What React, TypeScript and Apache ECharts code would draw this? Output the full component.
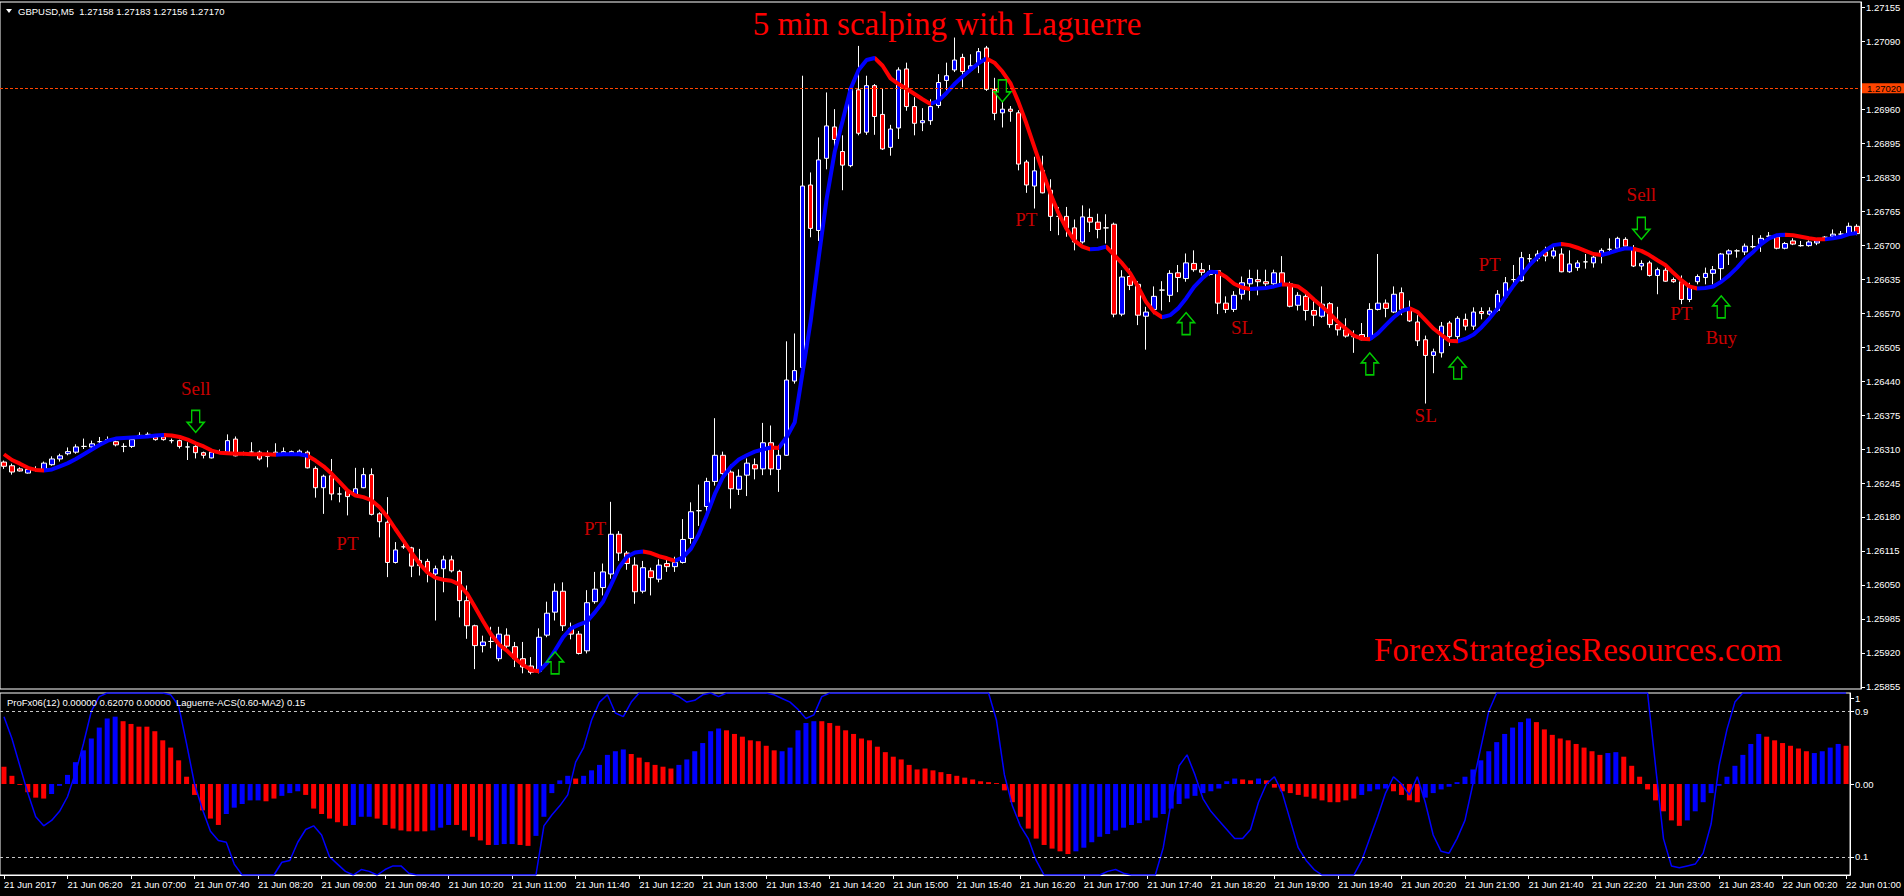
import React, { useEffect, useRef } from 'react';
import * as echarts from 'echarts';

// ---------- DATA ----------
const openP = [
1.26285,1.26278,1.26272,1.26264,1.26271,1.26270,1.26280,1.26291,1.26301,1.26304,
1.26315,1.26314,1.26324,1.26328,1.26324,1.26315,1.26315,1.26336,1.26338,1.26333,
1.26333,1.26326,1.26326,1.26314,1.26315,1.26303,1.26293,1.26305,1.26304,1.26329,
1.26301,1.26304,1.26304,1.26296,1.26304,1.26301,1.26301,1.26301,1.26304,1.26273,
1.26236,1.26259,1.26224,1.26229,1.26221,1.26236,1.26261,1.26186,1.26170,1.26093,
1.26123,1.26121,1.26097,1.26095,1.26071,1.26081,1.26098,1.26076,1.26020,1.25972,
1.25934,1.25942,1.25909,1.25954,1.25932,1.25909,1.25895,1.25885,1.25954,1.25998,
1.26038,1.25967,1.25956,1.25924,1.26018,1.26045,1.26071,1.26147,1.26111,1.26088,
1.26038,1.26077,1.26061,1.26091,1.26085,1.26093,1.26139,1.26192,1.26200,1.26248,
1.26298,1.26266,1.26233,1.26260,1.26280,1.26272,1.26322,1.26271,1.26298,1.26440,
1.26466,1.26815,1.26728,1.26866,1.26926,1.26879,1.26852,1.26997,1.26916,1.27005,
1.26950,1.26887,1.26924,1.27037,1.26965,1.26934,1.26938,1.26967,1.27015,1.27035,
1.27059,1.27035,1.27048,1.27077,1.26998,1.26953,1.26960,1.26953,1.26859,1.26813,
1.26843,1.26805,1.26755,1.26755,1.26733,1.26706,1.26753,1.26744,1.26733,1.26740,
1.26568,1.26640,1.26625,1.26564,1.26577,1.26614,1.26604,1.26647,1.26636,1.26665,
1.26653,1.26644,1.26651,1.26589,1.26577,1.26606,1.26626,1.26634,1.26630,1.26626,
1.26647,1.26626,1.26585,1.26602,1.26575,1.26564,1.26588,1.26548,1.26538,1.26525,
1.26529,1.26521,1.26577,1.26589,1.26572,1.26609,1.26577,1.26553,1.26519,1.26489,
1.26494,1.26551,1.26525,1.26558,1.26545,1.26573,1.26568,1.26575,1.26601,1.26634,
1.26632,1.26674,1.26674,1.26687,1.26679,1.26683,1.26649,1.26657,1.26668,1.26666,
1.26681,1.26692,1.26694,1.26711,1.26694,1.26660,1.26666,1.26642,1.26652,1.26634,
1.26630,1.26596,1.26630,1.26638,1.26646,1.26655,1.26683,1.26689,1.26687,1.26697,
1.26703,1.26717,1.26716,1.26694,1.26708,1.26699,1.26699,1.26704,1.26715,1.26717,
1.26721,1.26722,1.26736];

const closeP = [
1.26277,1.26266,1.26268,1.26271,1.26271,1.26283,1.26291,1.26297,1.26305,1.26314,
1.26315,1.26320,1.26324,1.26328,1.26318,1.26315,1.26328,1.26336,1.26338,1.26328,
1.26328,1.26326,1.26315,1.26314,1.26303,1.26298,1.26304,1.26305,1.26326,1.26297,
1.26301,1.26304,1.26291,1.26296,1.26301,1.26305,1.26305,1.26306,1.26274,1.26236,
1.26258,1.26224,1.26224,1.26219,1.26234,1.26261,1.26185,1.26171,1.26093,1.26117,
1.26123,1.26086,1.26087,1.26074,1.26081,1.26098,1.26077,1.26020,1.25972,1.25934,
1.25941,1.25942,1.25956,1.25933,1.25909,1.25893,1.25883,1.25950,1.25996,1.26038,
1.25972,1.25956,1.25919,1.26016,1.26042,1.26075,1.26147,1.26111,1.26091,1.26037,
1.26083,1.26064,1.26088,1.26085,1.26093,1.26137,1.26190,1.26192,1.26248,1.26298,
1.26263,1.26234,1.26258,1.26283,1.26272,1.26322,1.26272,1.26298,1.26442,1.26460,
1.26813,1.26732,1.26863,1.26928,1.26902,1.26853,1.26999,1.26914,1.27005,1.26946,
1.26884,1.26922,1.27035,1.26965,1.26933,1.26938,1.26965,1.27011,1.27024,1.27054,
1.27032,1.27043,1.27070,1.26998,1.26952,1.26960,1.26956,1.26855,1.26815,1.26842,
1.26800,1.26755,1.26755,1.26733,1.26706,1.26754,1.26744,1.26730,1.26733,1.26568,
1.26639,1.26623,1.26566,1.26572,1.26602,1.26614,1.26646,1.26638,1.26666,1.26653,
1.26648,1.26649,1.26589,1.26577,1.26604,1.26628,1.26636,1.26630,1.26626,1.26647,
1.26626,1.26583,1.26604,1.26575,1.26566,1.26587,1.26548,1.26538,1.26526,1.26525,
1.26519,1.26577,1.26589,1.26579,1.26606,1.26577,1.26555,1.26517,1.26489,1.26496,
1.26545,1.26525,1.26560,1.26545,1.26572,1.26569,1.26574,1.26606,1.26628,1.26634,
1.26676,1.26674,1.26683,1.26679,1.26689,1.26649,1.26664,1.26666,1.26668,1.26677,
1.26690,1.26692,1.26713,1.26698,1.26660,1.26665,1.26642,1.26653,1.26631,1.26630,
1.26596,1.26621,1.26640,1.26646,1.26653,1.26683,1.26689,1.26689,1.26698,1.26697,
1.26713,1.26717,1.26694,1.26703,1.26702,1.26699,1.26706,1.26708,1.26715,1.26721,
1.26721,1.26736,1.26722];

const highP = [
1.26288,1.26282,1.26275,1.26273,1.26277,1.26286,1.26296,1.26301,1.26313,1.26319,
1.26330,1.26326,1.26333,1.26334,1.26326,1.26321,1.26332,1.26342,1.26342,1.26336,
1.26334,1.26330,1.26328,1.26323,1.26321,1.26305,1.26307,1.26309,1.26338,1.26334,
1.26305,1.26323,1.26307,1.26307,1.26321,1.26313,1.26307,1.26309,1.26307,1.26277,
1.26261,1.26291,1.26237,1.26235,1.26274,1.26274,1.26273,1.26189,1.26218,1.26132,
1.26138,1.26123,1.26119,1.26100,1.26087,1.26106,1.26106,1.26079,1.26049,1.25974,
1.25953,1.25970,1.25970,1.25967,1.25941,1.25941,1.25912,1.25967,1.26018,1.26053,
1.26055,1.25978,1.25962,1.26040,1.26075,1.26091,1.26209,1.26153,1.26115,1.26103,
1.26096,1.26083,1.26099,1.26099,1.26104,1.26176,1.26208,1.26242,1.26255,1.26369,
1.26305,1.26280,1.26271,1.26292,1.26292,1.26360,1.26355,1.26317,1.26516,1.26531,
1.27024,1.26839,1.26906,1.26992,1.26960,1.26910,1.27000,1.27081,1.27024,1.27008,
1.27000,1.26930,1.27040,1.27049,1.26983,1.26962,1.26979,1.27027,1.27049,1.27097,
1.27066,1.27065,1.27077,1.27081,1.27020,1.26974,1.26966,1.26958,1.26863,1.26869,
1.26871,1.26826,1.26773,1.26773,1.26749,1.26776,1.26770,1.26760,1.26759,1.26743,
1.26652,1.26655,1.26631,1.26582,1.26621,1.26631,1.26652,1.26662,1.26684,1.26690,
1.26666,1.26662,1.26652,1.26602,1.26612,1.26640,1.26653,1.26653,1.26653,1.26653,
1.26679,1.26630,1.26610,1.26607,1.26594,1.26621,1.26591,1.26582,1.26560,1.26537,
1.26551,1.26589,1.26683,1.26596,1.26621,1.26619,1.26594,1.26566,1.26527,1.26502,
1.26553,1.26555,1.26564,1.26569,1.26581,1.26581,1.26581,1.26614,1.26639,1.26662,
1.26687,1.26683,1.26690,1.26697,1.26697,1.26694,1.26690,1.26671,1.26683,1.26683,
1.26694,1.26713,1.26716,1.26715,1.26700,1.26671,1.26670,1.26657,1.26657,1.26638,
1.26642,1.26628,1.26644,1.26657,1.26660,1.26685,1.26692,1.26692,1.26703,1.26719,
1.26719,1.26725,1.26719,1.26706,1.26713,1.26708,1.26709,1.26713,1.26717,1.26730,
1.26727,1.26743,1.26740];

const lowP = [
1.26272,1.26261,1.26267,1.26263,1.26267,1.26269,1.26278,1.26286,1.26298,1.26301,
1.26310,1.26311,1.26320,1.26323,1.26315,1.26304,1.26312,1.26330,1.26332,1.26326,
1.26326,1.26321,1.26311,1.26289,1.26292,1.26292,1.26292,1.26301,1.26303,1.26296,
1.26298,1.26298,1.26288,1.26275,1.26298,1.26300,1.26300,1.26300,1.26273,1.26217,
1.26186,1.26212,1.26208,1.26183,1.26219,1.26235,1.26183,1.26141,1.26065,1.26091,
1.26119,1.26065,1.26068,1.26055,1.25982,1.26036,1.26074,1.25988,1.25947,1.25889,
1.25921,1.25929,1.25904,1.25925,1.25893,1.25881,1.25879,1.25881,1.25950,1.25982,
1.25962,1.25946,1.25917,1.25919,1.26014,1.26030,1.26062,1.26096,1.26079,1.26014,
1.26034,1.26030,1.26055,1.26075,1.26075,1.26091,1.26129,1.26163,1.26180,1.26240,
1.26256,1.26196,1.26222,1.26220,1.26252,1.26260,1.26260,1.26228,1.26297,1.26435,
1.26462,1.26715,1.26708,1.26845,1.26886,1.26805,1.26849,1.26910,1.26911,1.26911,
1.26882,1.26871,1.26903,1.26957,1.26910,1.26918,1.26930,1.26962,1.26995,1.27031,
1.27002,1.27031,1.27029,1.26995,1.26939,1.26925,1.26936,1.26843,1.26800,1.26770,
1.26799,1.26727,1.26719,1.26716,1.26690,1.26703,1.26725,1.26713,1.26703,1.26562,
1.26564,1.26614,1.26547,1.26500,1.26568,1.26575,1.26591,1.26610,1.26630,1.26649,
1.26642,1.26642,1.26568,1.26570,1.26572,1.26596,1.26594,1.26604,1.26621,1.26623,
1.26623,1.26581,1.26575,1.26556,1.26545,1.26561,1.26542,1.26527,1.26523,1.26494,
1.26518,1.26518,1.26575,1.26562,1.26570,1.26566,1.26553,1.26507,1.26397,1.26455,
1.26485,1.26507,1.26519,1.26537,1.26538,1.26558,1.26561,1.26572,1.26598,1.26626,
1.26630,1.26660,1.26669,1.26669,1.26674,1.26648,1.26647,1.26651,1.26655,1.26657,
1.26665,1.26687,1.26690,1.26694,1.26658,1.26652,1.26640,1.26606,1.26630,1.26628,
1.26587,1.26591,1.26625,1.26625,1.26625,1.26631,1.26662,1.26676,1.26681,1.26694,
1.26687,1.26715,1.26692,1.26692,1.26700,1.26697,1.26697,1.26700,1.26709,1.26716,
1.26717,1.26721,1.26719];

// Laguerre moving line on the price chart
const laguerreMA = [
1.26300,1.26289,1.26282,1.26274,1.26270,1.26269,1.26271,1.26277,1.26283,1.26291,
1.26300,1.26309,1.26318,1.26326,1.26330,1.26331,1.26332,1.26333,1.26334,1.26336,
1.26337,1.26336,1.26333,1.26328,1.26321,1.26315,1.26307,1.26303,1.26302,1.26301,
1.26301,1.26300,1.26300,1.26300,1.26299,1.26300,1.26300,1.26300,1.26297,1.26288,
1.26277,1.26263,1.26247,1.26231,1.26221,1.26218,1.26212,1.26199,1.26180,1.26157,
1.26135,1.26112,1.26091,1.26074,1.26064,1.26060,1.26058,1.26051,1.26033,1.26007,
1.25980,1.25955,1.25936,1.25924,1.25909,1.25897,1.25887,1.25885,1.25901,1.25925,
1.25950,1.25967,1.25974,1.25980,1.25998,1.26018,1.26050,1.26083,1.26104,1.26112,
1.26114,1.26111,1.26105,1.26101,1.26096,1.26103,1.26119,1.26147,1.26184,1.26224,
1.26256,1.26276,1.26290,1.26298,1.26305,1.26309,1.26313,1.26312,1.26333,1.26361,
1.26458,1.26555,1.26676,1.26789,1.26878,1.26938,1.26999,1.27035,1.27054,1.27058,
1.27043,1.27019,1.27008,1.26999,1.26989,1.26979,1.26970,1.26976,1.26991,1.27008,
1.27022,1.27035,1.27048,1.27057,1.27049,1.27032,1.27010,1.26974,1.26933,1.26888,
1.26843,1.26799,1.26762,1.26732,1.26709,1.26697,1.26692,1.26693,1.26697,1.26681,
1.26665,1.26646,1.26620,1.26591,1.26572,1.26562,1.26566,1.26579,1.26598,1.26620,
1.26636,1.26649,1.26648,1.26639,1.26626,1.26619,1.26616,1.26617,1.26618,1.26621,
1.26625,1.26624,1.26621,1.26610,1.26596,1.26583,1.26569,1.26553,1.26540,1.26527,
1.26521,1.26520,1.26531,1.26547,1.26562,1.26574,1.26579,1.26572,1.26556,1.26540,
1.26528,1.26517,1.26516,1.26521,1.26529,1.26543,1.26560,1.26579,1.26601,1.26623,
1.26642,1.26662,1.26677,1.26690,1.26700,1.26702,1.26700,1.26695,1.26689,1.26683,
1.26681,1.26685,1.26690,1.26694,1.26693,1.26689,1.26681,1.26671,1.26662,1.26647,
1.26633,1.26621,1.26617,1.26618,1.26621,1.26630,1.26642,1.26657,1.26674,1.26687,
1.26702,1.26713,1.26719,1.26720,1.26719,1.26716,1.26713,1.26711,1.26711,1.26713,
1.26716,1.26721,1.26723];

// bar positions where the Laguerre line changes colour (starts red)
const maTurns = [5, 20, 34.2, 37.5, 66.5, 80, 84.4, 95.9, 97.1, 109, 116.1, 123, 136.3, 138, 145.3,
  151.7, 156.3, 160, 171, 175.9, 182.3, 194.8, 200, 204, 212.1, 223, 228.2];

// ProFx06 histogram
const histValues = [
0.19,0.09,-0.01,-0.09,-0.15,-0.16,-0.11,-0.02,0.1,0.24,
0.37,0.5,0.62,0.72,0.74,0.69,0.66,0.63,0.63,0.58,
0.48,0.4,0.26,0.08,-0.12,-0.29,-0.38,-0.45,-0.33,-0.26,
-0.22,-0.18,-0.18,-0.19,-0.16,-0.13,-0.1,-0.08,-0.12,-0.27,
-0.33,-0.38,-0.42,-0.46,-0.45,-0.36,-0.36,-0.38,-0.45,-0.49,
-0.51,-0.52,-0.52,-0.52,-0.51,-0.48,-0.45,-0.45,-0.51,-0.58,
-0.62,-0.67,-0.67,-0.66,-0.66,-0.67,-0.68,-0.57,-0.36,-0.1,
0.04,0.09,0.06,0.09,0.15,0.21,0.32,0.36,0.38,0.33,
0.29,0.24,0.21,0.19,0.17,0.21,0.27,0.36,0.45,0.58,
0.61,0.59,0.55,0.52,0.48,0.47,0.42,0.37,0.36,0.4,
0.59,0.67,0.69,0.69,0.67,0.64,0.59,0.55,0.5,0.48,
0.41,0.35,0.3,0.27,0.21,0.16,
0.17,0.15,0.13,0.11,0.09,0.07,0.05,0.03,0.02,0.01,
-0.07,-0.2,-0.36,-0.49,-0.6,-0.67,-0.71,-0.74,-0.77,
-0.74,-0.7,-0.64,-0.58,-0.55,-0.51,-0.48,-0.45,-0.43,-0.4,-0.37,-0.33,-0.27,-0.22,-0.16,
-0.13,-0.1,-0.08,-0.05,0.03,0.06,
0.05,0.04,
0.06,
0.04,
-0.04,-0.08,-0.1,-0.12,-0.14,-0.16,-0.18,-0.2,-0.2,-0.18,-0.16,
-0.12,-0.08,-0.06,-0.05,
-0.08,-0.12,-0.18,-0.2,
-0.15,-0.1,-0.06,-0.03,0.02,0.08,0.16,0.26,0.36,0.46,0.55,0.62,0.68,0.72,
0.68,0.6,0.54,0.5,0.48,0.44,0.4,0.36,0.32,
0.34,0.35,
0.3,0.2,0.08,-0.06,-0.18,-0.3,-0.4,-0.46,
-0.4,-0.3,-0.2,-0.1,-0.02,0.08,0.2,0.32,0.44,0.55,
0.52,0.48,0.45,0.42,0.39,0.36,
0.34,0.36,0.4,0.44,
0.42];

// colour runs of the histogram: r = red, b = blue
const histRuns: [string, number][] = [
  ['r', 6], ['b', 9], ['r', 13], ['b', 5], ['r', 2], ['b', 3], ['r', 6], ['b', 3], ['r', 7], ['b', 3],
  ['r', 5], ['b', 3], ['r', 2], ['b', 5], ['r', 1], ['b', 6], ['r', 6], ['b', 6], ['r', 7], ['b', 5],
  ['r', 13],
  ['r', 19], ['b', 21], ['r', 2], ['b', 1], ['r', 12], ['b', 4], ['r', 4], ['b', 14], ['r', 9], ['b', 2],
  ['r', 8], ['b', 10], ['r', 6], ['b', 4], ['r', 1],
];

// Laguerre-ACS oscillator (0..1)
const laguerreACS = [
0.87,0.75,0.6,0.45,0.32,0.27,0.3,0.35,0.43,0.56,
0.72,0.9,0.98,1,1,1,1,1,1,1,
1,0.99,0.93,0.72,0.5,0.36,0.24,0.19,0.18,0.06,
0,0,0,0,0,0.07,0.08,0.18,0.25,0.27,
0.22,0.1,0.06,0.02,0,0.03,0.02,0,0.03,0.05,
0.05,0.01,0,0,0,0,0,0,0,0,
0,0,0,0,0,0,0,0,0.27,0.33,
0.38,0.44,0.62,0.7,0.85,0.95,0.99,0.89,0.87,0.95,
1,1,1,1,1,0.98,0.95,0.96,0.99,1,
0.98,1,1,1,1,1,1,0.99,0.97,0.95,
0.91,0.86,0.88,0.98,1,1,1,1,1,1,
1,1,1,1,1,1,1,1,1,1,
1,1,1,1,1,0.85,0.55,0.38,0.27,0.2,
0.08,0,0,0,0,0,0,0,0,0.02,
0.03,0.01,0,0,0,0,0.15,0.4,0.6,0.66,
0.55,0.42,0.35,0.3,0.25,0.2,0.2,0.25,0.4,0.5,
0.54,0.45,0.3,0.15,0.08,0.03,0,0,0,0,
0,0.08,0.2,0.32,0.45,0.54,0.5,0.44,0.54,0.4,
0.22,0.13,0.12,0.2,0.3,0.5,0.7,0.9,1,1,
1,1,1,1,1,1,1,1,1,1,
1,1,1,1,1,1,1,1,0.6,0.2,
0.05,0.04,0.05,0.06,0.12,0.28,0.6,0.8,0.95,1,
1,1,1,1,1,1,1,1,1,1,
1,1,1];

const timeLabels = [
  '21 Jun 2017', '21 Jun 06:20', '21 Jun 07:00', '21 Jun 07:40', '21 Jun 08:20', '21 Jun 09:00',
  '21 Jun 09:40', '21 Jun 10:20', '21 Jun 11:00', '21 Jun 11:40', '21 Jun 12:20', '21 Jun 13:00',
  '21 Jun 13:40', '21 Jun 14:20', '21 Jun 15:00', '21 Jun 15:40', '21 Jun 16:20', '21 Jun 17:00',
  '21 Jun 17:40', '21 Jun 18:20', '21 Jun 19:00', '21 Jun 19:40', '21 Jun 20:20', '21 Jun 21:00',
  '21 Jun 21:40', '21 Jun 22:20', '21 Jun 23:00', '21 Jun 23:40', '22 Jun 00:20', '22 Jun 01:00',
];

const priceTicks = [1.27155, 1.27090, 1.26960, 1.26895, 1.26830, 1.26765, 1.26700, 1.26635, 1.26570,
  1.26505, 1.26440, 1.26375, 1.26310, 1.26245, 1.26180, 1.26115, 1.26050, 1.25985, 1.25920, 1.25855];
const priceMin = 1.25851;
const priceMax = 1.27165;
const bidPrice = 1.27020;

const upArrows = [[69, 1.25901], [148, 1.26550], [171, 1.26473], [182, 1.26465], [215, 1.26582]];
const downArrows = [[24, 1.26363], [125, 1.26995], [205, 1.26732]];
const noteText = ['Sell', 'PT', 'PT', 'PT', 'SL', 'SL', 'PT', 'Sell', 'PT', 'Buy'];
const noteBar = [24, 43, 74, 128, 155, 178, 186, 205, 210, 215];
const notePrice = [1.26425, 1.26129, 1.26158, 1.26749, 1.26542, 1.26374, 1.26662, 1.26796, 1.26569, 1.26524];

const headerText = 'GBPUSD,M5\u00a0\u00a01.27158 1.27183 1.27156 1.27170';
const indicatorText = 'ProFx06(12) 0.00000 0.62070 0.00000\u00a0\u00a0Laguerre-ACS(0.60-MA2) 0.15';
const titleText = '5 min scalping with Laguerre';
const watermarkText = 'ForexStrategiesResources.com';

// ---------- CHART ----------
const RED = '#ff0000';
const BLUE = '#0000ff';
const GREEN = '#00ff00';
const SANS = '"Liberation Sans", Arial, sans-serif';
const SERIF = '"Liberation Serif", "Times New Roman", serif';
const FS = 9.5;

function buildOption() {
  const cats = openP.map((_, i) => String(i));
  const candles = openP.map((o, i) => [o, closeP[i], lowP[i], highP[i]]);

  const histColors: string[] = [];
  histRuns.forEach(([c, n]) => {
    for (let k = 0; k < n; k++) histColors.push(c === 'r' ? RED : BLUE);
  });
  const histData = histValues.map((v, i) => ({ value: v, itemStyle: { color: histColors[i] || RED } }));

  const pieces: any[] = [];
  for (let k = 0; k <= maTurns.length; k++) {
    const p: any = { color: k % 2 === 0 ? RED : BLUE };
    if (k > 0) p.gte = maTurns[k - 1];
    if (k < maTurns.length) p.lt = maTurns[k];
    pieces.push(p);
  }

  const upPath = 'path://M8.5,0L17,10L12.5,10L12.5,22L4.5,22L4.5,10L0,10Z';
  const downPath = 'path://M4.5,0L12.5,0L12.5,12L17,12L8.5,22L0,12L4.5,12Z';

  return {
    animation: false,
    backgroundColor: '#000000',
    textStyle: { fontFamily: SANS },
    grid: [
      { left: 0, top: 2, width: 1861, height: 687, show: true, borderColor: '#ffffff', borderWidth: 1, backgroundColor: 'transparent' },
      { left: 0, top: 693, width: 1861, height: 182, show: true, borderColor: '#ffffff', borderWidth: 1, backgroundColor: 'transparent' },
    ],
    xAxis: [
      { type: 'category', gridIndex: 0, data: cats, boundaryGap: true, show: false },
      {
        type: 'category', gridIndex: 1, data: cats, boundaryGap: true,
        axisLine: { show: true, lineStyle: { color: '#ffffff', width: 1 } },
        axisTick: { show: true, interval: 7, alignWithLabel: true, length: 4, lineStyle: { color: '#ffffff' } },
        axisLabel: {
          show: true, interval: 7, color: '#ffffff', fontSize: FS, fontFamily: SANS, align: 'left', margin: 4,
          formatter: (_v: string, idx: number) => timeLabels[idx / 8] || '',
        },
        splitLine: { show: false },
      },
    ],
    yAxis: [
      {
        type: 'value', gridIndex: 0, position: 'right', min: priceMin, max: priceMax,
        axisLine: { show: true, onZero: false, lineStyle: { color: '#ffffff' } },
        axisTick: { show: true, length: 4, customValues: priceTicks, lineStyle: { color: '#ffffff' } },
        axisLabel: {
          show: true, customValues: priceTicks, color: '#ffffff', fontSize: FS, fontFamily: SANS, margin: 5,
          formatter: (v: number) => v.toFixed(5),
        },
        splitLine: { show: false },
      },
      {
        type: 'value', gridIndex: 1, position: 'right', min: 0, max: 1,
        axisLine: { show: true, onZero: false, lineStyle: { color: '#ffffff' } },
        axisTick: { show: true, length: 4, customValues: [0.1, 0.9, 0.97], lineStyle: { color: '#ffffff' } },
        axisLabel: {
          show: true, customValues: [0.1, 0.9, 0.97], color: '#ffffff', fontSize: FS, fontFamily: SANS, margin: 5,
          formatter: (v: number) => (v > 0.95 ? '1' : v.toFixed(1)),
        },
        splitLine: { show: false },
      },
      {
        type: 'value', gridIndex: 1, position: 'right', min: -1, max: 1,
        axisLine: { show: false, onZero: false },
        axisTick: { show: true, length: 4, customValues: [0], lineStyle: { color: '#ffffff' } },
        axisLabel: {
          show: true, customValues: [0], color: '#ffffff', fontSize: FS, fontFamily: SANS, margin: 5,
          formatter: () => '0.00',
        },
        splitLine: { show: false },
      },
    ],
    visualMap: [
      { type: 'piecewise', show: false, seriesIndex: 1, dimension: 0, pieces },
    ],
    series: [
      {
        name: 'GBPUSD', type: 'candlestick', xAxisIndex: 0, yAxisIndex: 0, data: candles, barWidth: 5,
        itemStyle: {
          color: BLUE, color0: RED, borderColor: '#ffffff', borderColor0: '#ffffff', borderColorDoji: '#ffffff', borderWidth: 1,
        },
        markLine: {
          silent: true, symbol: ['none', 'none'], animation: false,
          lineStyle: { color: '#ff4500', type: [3, 2], width: 1 },
          label: {
            show: true, position: 'end', distance: 1, formatter: () => bidPrice.toFixed(5),
            backgroundColor: '#ff4500', color: '#000000', fontSize: FS, fontFamily: SANS, lineHeight: 9,
            padding: [1, 4, 0, 5],
          },
          data: [{ yAxis: bidPrice }],
        },
      },
      {
        name: 'Laguerre', type: 'line', xAxisIndex: 0, yAxisIndex: 0, data: laguerreMA,
        symbol: 'none', smooth: false, lineStyle: { width: 4 }, z: 3,
      },
      {
        name: 'Up', type: 'scatter', xAxisIndex: 0, yAxisIndex: 0, data: upArrows,
        symbol: upPath, symbolSize: [17, 22], z: 5,
        itemStyle: { color: '#000000', borderColor: GREEN, borderWidth: 1.5 },
      },
      {
        name: 'Down', type: 'scatter', xAxisIndex: 0, yAxisIndex: 0, data: downArrows,
        symbol: downPath, symbolSize: [17, 22], z: 5,
        itemStyle: { color: '#000000', borderColor: GREEN, borderWidth: 1.5 },
      },
      {
        name: 'Notes', type: 'scatter', xAxisIndex: 0, yAxisIndex: 0,
        data: noteText.map((t, i) => ({ name: t, value: [noteBar[i], notePrice[i]] })),
        symbolSize: 1, itemStyle: { color: 'rgba(0,0,0,0)' }, z: 6,
        label: {
          show: true, position: 'inside', formatter: '{b}', color: RED, fontSize: 19, fontFamily: SERIF,
        },
      },
      {
        name: 'ProFx06', type: 'bar', xAxisIndex: 1, yAxisIndex: 2, data: histData, barWidth: 5,
      },
      {
        name: 'Laguerre-ACS', type: 'line', xAxisIndex: 1, yAxisIndex: 1, data: laguerreACS,
        symbol: 'none', lineStyle: { color: BLUE, width: 1.5 }, z: 4,
        markLine: {
          silent: true, symbol: ['none', 'none'], animation: false, label: { show: false },
          lineStyle: { color: '#c8c8c8', type: [3, 3], width: 1 },
          data: [{ yAxis: 0.9 }, { yAxis: 0.1 }],
        },
      },
    ],
    graphic: [
      { type: 'polygon', shape: { points: [[6, 9], [12, 9], [9, 13]] }, style: { fill: '#ffffff' }, z: 10 },
      {
        type: 'text', x: 18, y: 11, z: 10,
        style: { text: headerText, fill: '#ffffff', fontSize: FS, fontFamily: SANS, verticalAlign: 'middle', align: 'left' },
      },
      {
        type: 'text', x: 7, y: 702, z: 10,
        style: { text: indicatorText, fill: '#ffffff', fontSize: FS, fontFamily: SANS, verticalAlign: 'middle', align: 'left' },
      },
      {
        type: 'text', x: 947, y: 24, z: 10,
        style: { text: titleText, fill: RED, fontSize: 33, fontFamily: SERIF, verticalAlign: 'middle', align: 'center' },
      },
      {
        type: 'text', x: 1578, y: 650, z: 10,
        style: { text: watermarkText, fill: RED, fontSize: 33, fontFamily: SERIF, verticalAlign: 'middle', align: 'center' },
      },
    ],
  };
}

export default function App() {
  const ref = useRef<HTMLDivElement>(null);
  useEffect(() => {
    if (!ref.current) return;
    const chart = echarts.init(ref.current, undefined, { renderer: 'svg' });
    chart.setOption(buildOption() as any);
    return () => {
      chart.dispose();
    };
  }, []);
  return (
    <div
      ref={ref}
      style={{ position: 'fixed', left: 0, top: 0, width: 1904, height: 896, background: '#000000' }}
    />
  );
}
